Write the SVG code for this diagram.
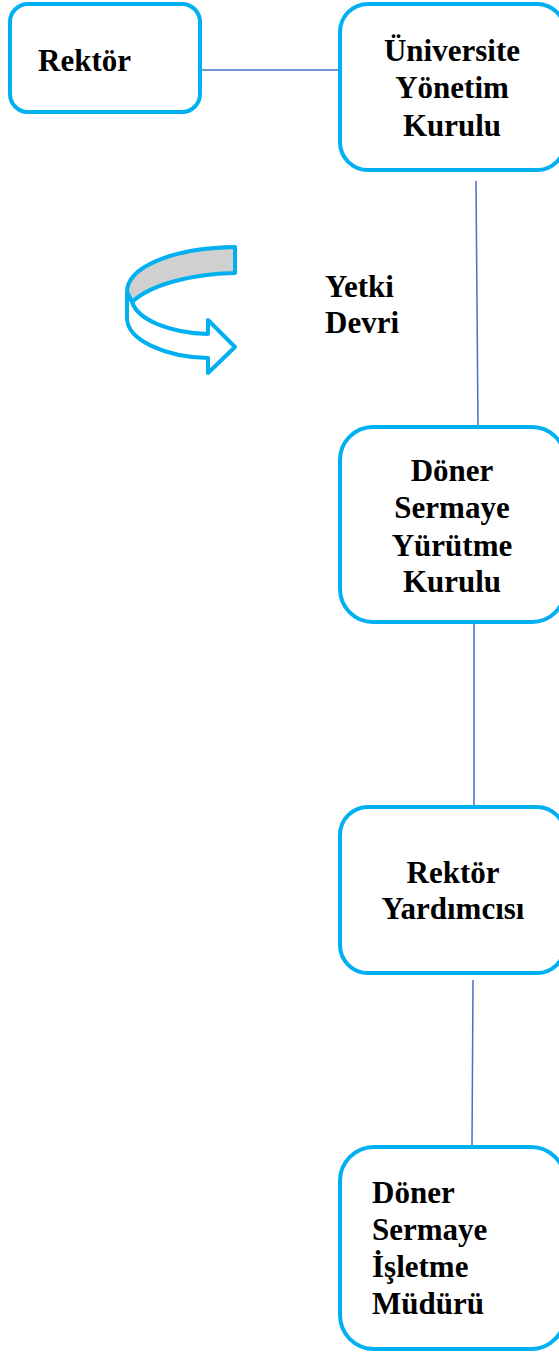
<svg xmlns="http://www.w3.org/2000/svg" width="559" height="1353" viewBox="0 0 559 1353">
<style>
.box{fill:#fff;stroke:#00B0F0;stroke-width:4}
.t{font-family:"Liberation Serif","Times New Roman",serif;font-weight:bold;font-size:31px;fill:#000}
.c{text-anchor:middle}
.con{stroke:#4472C4;stroke-width:1.5;fill:none}
.arr{stroke:#00B0F0;stroke-width:4;stroke-linejoin:round}
</style>
<rect width="559" height="1353" fill="#fff"/>
<g id="connectors">
<line class="con" x1="201" y1="70" x2="338" y2="70"/>
<line class="con" x1="476" y1="181" x2="478" y2="425"/>
<line class="con" x1="474" y1="624" x2="474" y2="805"/>
<line class="con" x1="473" y1="980" x2="472" y2="1145"/>
</g>
<g id="rektor">
<rect class="box" x="10" y="4" width="190" height="108" rx="18"/>
<text class="t" x="38" y="71">Rektör</text>
</g>
<g id="universite-yonetim-kurulu">
<rect class="box" x="340" y="4" width="225" height="166" rx="28"/>
<text class="t c" x="452" y="61">Üniversite</text>
<text class="t c" x="452" y="98">Yönetim</text>
<text class="t c" x="452" y="136">Kurulu</text>
</g>
<g id="yetki-devri">
<path class="arr" fill="#D0D0D0" d="M235,247 C170,248 127,268 127,292 L132,302 C150,285 190,274 235,273 Z"/>
<path class="arr" fill="#fff" d="M127,292 L127,318 C127,340 165,357 208,358 L208,373 L235,347 L208,320 L208,334 C170,333 138,320 132,302 Z"/>
<text class="t" x="325" y="297">Yetki</text>
<text class="t" x="325" y="333">Devri</text>
</g>
<g id="doner-sermaye-yurutme-kurulu">
<rect class="box" x="340" y="427" width="225" height="195" rx="33"/>
<text class="t c" x="452" y="481">Döner</text>
<text class="t c" x="452" y="518">Sermaye</text>
<text class="t c" x="452" y="556">Yürütme</text>
<text class="t c" x="452" y="592">Kurulu</text>
</g>
<g id="rektor-yardimcisi">
<rect class="box" x="340" y="807" width="225" height="166" rx="28"/>
<text class="t c" x="453" y="883">Rektör</text>
<text class="t c" x="453" y="919">Yardımcısı</text>
</g>
<g id="doner-sermaye-isletme-muduru">
<rect class="box" x="340" y="1147" width="225" height="202" rx="34"/>
<text class="t" x="372" y="1203">Döner</text>
<text class="t" x="372" y="1240">Sermaye</text>
<text class="t" x="372" y="1277">İşletme</text>
<text class="t" x="372" y="1314">Müdürü</text>
</g>
</svg>
